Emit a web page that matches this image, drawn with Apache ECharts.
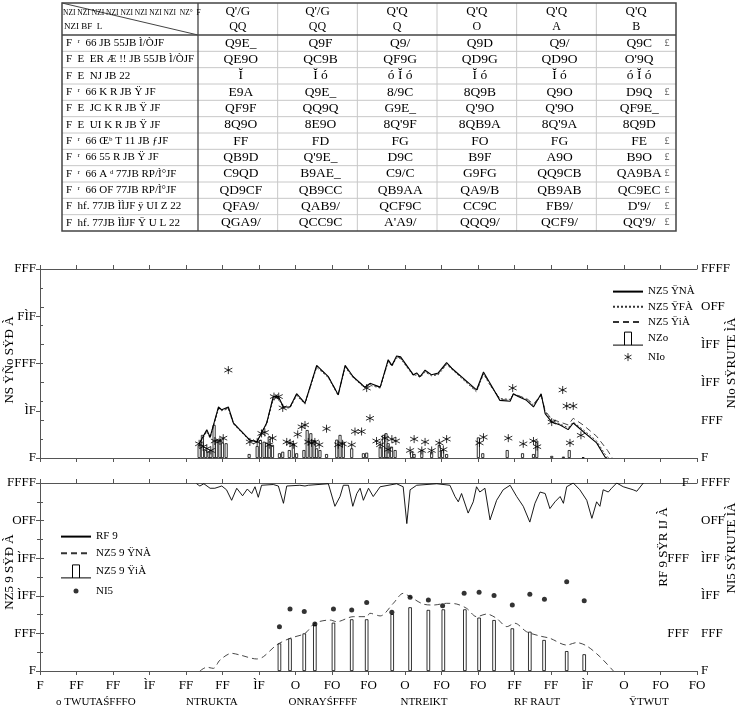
<!DOCTYPE html>
<html><head><meta charset="utf-8">
<script src="https://cdn.jsdelivr.net/npm/echarts@6/dist/echarts.min.js"></script>
<style>html,body{margin:0;padding:0;background:#fff}#c{width:739px;height:723px}</style>
</head><body><div id="c"></div>
<script>
// ---------- table ----------
const tableCorner = ['NZI NZI NZI NZI NZI NZI NZI NZI  NZ°  F', 'NZI BF  L'];
const tableColHeads = [["Q'/G","QQ"],["Q'/G","QQ"],["Q'Q","Q"],["Q'Q","O"],["Q'Q","A"],["Q'Q","B"]];
const tableRowNames = [
  "F  ʳ  66 JB 55JB Ì/ÒJF",
  "F  E  ER Æ !! JB 55JB Ì/ÒJF",
  "F  E  NJ JB 22",
  "F  ʳ  66 K R JB Ÿ JF",
  "F  E  JC K R JB Ÿ JF",
  "F  E  UI K R JB Ÿ JF",
  "F  ʳ  66 Œᵇ T 11 JB ƒJF",
  "F  ʳ  66 55 R JB Ÿ JF",
  "F  ʳ  66 A ᵈ 77JB RP/Ì°JF",
  "F  ʳ  66 OF 77JB RP/Ì°JF",
  "F  hf. 77JB ÌÌJF ÿ UI Z 22",
  "F  hf. 77JB ÌÌJF Ÿ U L 22"
];
const tableValues = [
  ["Q9E_","Q9F","Q9/","Q9D","Q9/","Q9C"],
  ["QE9O","QC9B","QF9G","QD9G","QD9O","O'9Q"],
  ["Ĭ","Ĭ ó","ó Ĭ ó","Ĭ ó","Ĭ ó","ó Ĭ ó"],
  ["E9A","Q9E_","8/9C","8Q9B","Q9O","D9Q"],
  ["QF9F","QQ9Q","G9E_","Q'9O","Q'9O","QF9E_"],
  ["8Q9O","8E9O","8Q'9F","8QB9A","8Q'9A","8Q9D"],
  ["FF","FD","FG","FO","FG","FE"],
  ["QB9D","Q'9E_","D9C","B9F","A9O","B9O"],
  ["C9QD","B9AE_","C9/C","G9FG","QQ9CB","QA9BA"],
  ["QD9CF","QB9CC","QB9AA","QA9/B","QB9AB","QC9EC"],
  ["QFA9/","QAB9/","QCF9C","CC9C","FB9/","D'9/"],
  ["QGA9/","QCC9C","A'A9/","QQQ9/","QCF9/","QQ'9/"]
];
const tableMarks = [true,false,false,true,false,false,true,true,true,true,true,true];

// ---------- axes text ----------
const xTickLabels = ['F','FF','FF','ÌF','FF','FF','ÌF','O','FO','FO','O','FO','FO','FF','FF','ÌF','O','FO','FO'];
const monthCenters = [15.3, 47.1, 77.5, 105.2, 136.2, 166.8];
const monthLabels = ['o TWUTAŚFFFO','NTRUKTA','ONRAYŚFFFF','NTREIKT','RF RAUT','ŸTWUT'];
const yUpLeftLabels = {0:'F',50:'ÌF',100:'FFF',150:'FÌF',200:'FFF'};
const y1000Labels = {0:'F',200:'FFF',400:'ÌFF',600:'ÌFF',800:'OFF',1000:'FFFF'};
const yInnerLabels = {0:'F',100:'FFF',200:'FFF'};
const titles = {
  upLeft:'NS ŸÑo SŸÐ À', upRight:'NIo SŸRUTE ÌÀ',
  lowLeft:'NZ5 9 SŸÐ À', lowInner:'RF 9 SŸR IJ À', lowRight:'NI5 SŸRUTE ÌÀ'
};
const upNames = ['NZ5 ŸNÀ','NZ5 ŸFÀ','NZ5 ŸiÀ','NZo','NIo'];
const lowNames = ['RF 9','NZ5 9 ŸNÀ','NZ5 9 ŸiÀ','NI5'];

// ---------- upper panel data [day, value] ----------
const simA = [[43.6,15],[45.7,30],[46.6,22],[48.9,54],[49.8,51],[51.6,54],[53,37],[57.5,19],[59.4,17],[62.1,37],[63.9,65],[65.3,65],[66.7,54],[68.5,54],[70.3,68],[72.6,58],[75.8,98],[79,86],[81.7,67],[83.6,98],[85.8,86],[89,75],[90.4,79],[93.2,75],[95.4,104],[96.4,98],[97.7,108],[98.8,107],[102.3,88],[103.2,90],[104.1,86],[105.5,93],[107.3,88],[109.1,90],[111.4,101],[112.8,95],[119.6,72],[121.5,91],[123.3,79],[126,61],[128.8,60],[129.7,68],[131,65],[133.3,61],[135.2,54],[137.3,68],[138.4,47],[140.2,38],[142.5,35],[144.7,30],[146.1,37],[148.8,28],[152.5,16],[154.8,1],[155.3,0]];
const simB = [[43.6,14],[45.7,28],[46.6,21],[48.9,52],[49.8,50],[51.6,52],[53,36],[57.5,18],[59.4,17],[62.1,36],[63.9,62],[65.3,63],[66.7,53],[68.5,53],[70.3,66],[72.6,57],[75.8,96],[79,85],[81.7,66],[83.6,96],[85.8,85],[89,74],[90.4,77],[93.2,74],[95.4,102],[96.4,97],[97.7,106],[98.8,105],[102.3,87],[103.2,88],[104.1,85],[105.5,91],[107.3,87],[109.1,88],[111.4,99],[112.8,94],[119.6,70],[121.5,89],[123.3,77],[126,63],[128.8,62],[129.7,67],[131,66],[133.3,62],[135.2,56],[137.3,66],[138.4,49],[140.2,40],[142.5,36],[144.7,32],[146.1,38],[148.8,30],[152.5,18],[154.8,4],[155.8,0]];
const simC = [[43.6,15],[45.7,29],[46.6,22],[48.9,53],[49.8,51],[51.6,53],[53,37],[57.5,19],[59.4,17],[62.1,37],[63.9,64],[65.3,64],[66.7,54],[68.5,54],[70.3,67],[72.6,58],[75.8,97],[79,86],[81.7,67],[83.6,97],[85.8,86],[89,75],[90.4,78],[93.2,75],[95.4,103],[96.4,98],[97.7,107],[98.8,106],[102.3,88],[103.2,89],[104.1,86],[105.5,92],[107.3,88],[109.1,89],[111.4,100],[112.8,95],[119.6,71],[121.5,90],[123.3,78],[126,62],[128.8,61],[129.7,68],[131,66],[133.3,63],[135.2,57],[137.3,67],[138.4,50],[140.2,41],[142.5,38],[144.7,35],[146.1,42],[148.8,35],[152.5,23],[155.5,8],[156.8,0]];
const obsBars = [[43.6,69],[44.5,122],[45.4,42],[46.3,33],[46.8,42],[47.7,175],[48.4,95],[49.3,97],[50.0,81],[51,78],[57.3,21],[59.5,63],[60.4,95],[61.4,86],[62.1,81],[62.8,113],[63.7,69],[65.6,25],[66.5,33],[68.3,42],[69.4,78],[70.3,25],[72.3,42],[73.2,148],[74.2,131],[75.1,95],[75.8,51],[76.7,42],[78.5,21],[81.3,97],[82.2,122],[83.1,86],[85.4,51],[88.6,25],[89.5,28],[93.2,60],[94.1,122],[94.8,131],[95.4,78],[96.3,60],[97.3,42],[101.8,33],[102.5,21],[104.6,42],[107.3,33],[109.4,69],[110.3,42],[111.4,21],[120.1,109],[121.3,25],[128,42],[132.2,25],[135.2,21],[136.1,92],[140.2,11],[143.4,7],[145,42],[148.8,4]];
const obsStars = [[43.6,15],[44.7,12],[45.7,10],[46.8,8],[47.9,18],[49.3,18],[50.2,21],[51.6,93],[57.5,17],[59.5,17],[60.7,26],[61.6,27],[62.8,14],[63.7,21],[64.1,65],[65.4,65],[66.5,53],[67.6,17],[68.5,16],[69.4,14],[70.6,25],[71.7,33],[72.6,35],[73.5,17],[74.4,16],[75.3,17],[76.5,14],[78.5,31],[81.7,14],[82.9,15],[85.4,14],[86.3,28],[88.1,28],[89.5,74],[90.4,42],[92.2,18],[93.2,14],[94.5,21],[95.4,9],[96.4,20],[97.5,18],[101.4,8],[102.5,20],[104.6,8],[105.5,17],[107.3,8],[109.4,16],[110.5,9],[111.4,20],[120.4,16],[121.5,22],[128.3,21],[129.5,74],[132.4,15],[135.2,18],[136.2,12],[140.2,38],[143.2,72],[144.3,55],[146.1,55],[145.2,16],[148.2,24]];

// ---------- lower panel data [day, value] ----------
const precipLine = [[42.9,1],[43.8,4],[44.9,1],[46.6,7],[47.9,7],[49.8,4],[51.1,9],[52.5,23],[53.9,7],[55.5,17],[56.8,8],[58,14],[58.9,5],[59.8,19],[60.7,3],[63.9,2],[65.3,4],[66.7,27],[67.6,4],[71.2,3],[72.6,4],[73.5,3],[79,1],[80.8,31],[82.2,18],[83.1,3],[84.5,3],[85.7,31],[86.8,14],[87.7,7],[88.6,23],[90,7],[91.3,18],[93.2,5],[97.7,1],[99.5,5],[100.5,54],[101.4,9],[103.2,3],[108.7,1],[112.3,3],[113.7,18],[114.6,25],[115.5,14],[117.3,40],[118.7,25],[119.6,5],[120.5,12],[121.9,7],[123.3,49],[125.1,23],[126.9,9],[128.8,3],[130.6,18],[132.4,31],[134.2,52],[135.6,27],[137,12],[138.4,14],[139.7,34],[141.1,25],[142.5,18],[143.4,27],[144.3,5],[146.1,0],[147.9,9],[149.8,23],[151.2,47],[152.5,25],[153.4,31],[154.3,9],[155.7,12],[156.6,7],[158,0],[159.8,5],[162.5,9],[163.5,11],[165.3,0]];
const sweSim = [[43.8,0],[45.7,20],[47.5,14],[49.3,58],[52.5,94],[54.8,85],[59.4,64],[61.2,76],[64.8,138],[68.5,174],[72.6,200],[75.3,254],[79.5,271],[81.3,262],[85.8,289],[89.5,289],[90.4,307],[93.2,293],[96.8,360],[99.5,413],[101.4,395],[105,356],[107.8,351],[111.4,360],[114.2,356],[116.9,333],[119.6,289],[122.4,303],[125.1,280],[127.9,236],[130.1,254],[133.3,209],[137,186],[139.7,174],[144.3,138],[147,151],[149.8,133],[153.4,76],[157.1,0]];
const sweBars = [[65.6,147],[68.5,174],[72.4,200],[75.3,245],[80.4,257],[85.4,275],[89.5,275],[96.5,303],[101.4,339],[106.4,325],[110.5,328],[116.4,328],[120.3,284],[124.4,271],[129.4,227],[134.2,209],[138.1,165],[144.3,106],[149.1,89]];
const sweObs = [[65.6,236],[68.5,330],[72.4,316],[75.3,250],[80.4,330],[85.4,325],[89.5,365],[96.4,312],[101.4,392],[106.4,378],[110.3,347],[116.2,413],[120.3,419],[124.4,401],[129.4,351],[134.2,408],[138.2,381],[144.3,475],[149.1,374]];

// ---------- build ----------
const FONT = 'Liberation Serif';
const chart = echarts.init(document.getElementById('c'), null, {renderer:'canvas'});
const axisCol = '#555';
const starPath = 'path://M0,0 L0,0 M30,14 L30,14 M15,3 L15,11 M11.5,5 L18.5,9 M11.5,9 L18.5,5';
const starSym = 'path://M5,0 L5,10 M0.7,2.5 L9.3,7.5 M0.7,7.5 L9.3,2.5';
const barIcon = 'path://M0,13 L30,13 M11.5,13 L11.5,0 L18.5,0 L18.5,13';
const dotIcon = 'path://M0,0 L0,0 M30,14 L30,14 M12.5,7 A2.5,2.5 0 1,0 17.5,7 A2.5,2.5 0 1,0 12.5,7 Z';

function xAx(grid, pos, labels){
  return {type:'value', gridIndex:grid, position:pos, min:0, max:180, interval:10,
    axisLine:{show:true, onZero:false, lineStyle:{color:axisCol, width:1}},
    axisTick:{show:true, inside:false, length:4, lineStyle:{color:axisCol}},
    axisLabel:{show:!!labels, margin:8, fontFamily:FONT, fontSize:13, color:'#000',
      formatter:v=>xTickLabels[Math.round(v/10)] || ''},
    splitLine:{show:false}};
}
function yAx(grid, pos, max, interval, map, extra){
  return Object.assign({type:'value', gridIndex:grid, position:pos, min:0, max:max, interval:interval,
    axisLine:{show:true, lineStyle:{color:axisCol, width:1}},
    axisTick:{show:true, length:4, lineStyle:{color:axisCol}},
    axisLabel:{fontFamily:FONT, fontSize:13, color:'#000', margin:4, formatter:v=>map[v]!==undefined?map[v]:''},
    splitLine:{show:false}}, extra||{});
}

// table graphics
const g = [];
const tx0=62, ty0=3, tx1=676, ty1=231, thdr=35, tc0=198, tcw=(tx1-tc0)/6, trh=(ty1-thdr)/12;
for(let i=1;i<12;i++) g.push({type:'line', shape:{x1:tx0,y1:thdr+trh*i,x2:tx1,y2:thdr+trh*i}, style:{stroke:'#c8c8c8', lineWidth:1}});
for(let j=1;j<6;j++) g.push({type:'line', shape:{x1:tc0+tcw*j,y1:ty0,x2:tc0+tcw*j,y2:ty1}, style:{stroke:'#c8c8c8', lineWidth:1}});
g.push({type:'line', shape:{x1:tc0,y1:ty0,x2:tc0,y2:ty1}, style:{stroke:'#444', lineWidth:1.3}});
g.push({type:'line', shape:{x1:tx0,y1:thdr,x2:tx1,y2:thdr}, style:{stroke:'#444', lineWidth:1.3}});
g.push({type:'line', shape:{x1:tx0,y1:ty0,x2:tc0,y2:thdr}, style:{stroke:'#444', lineWidth:1}});
g.push({type:'rect', shape:{x:tx0,y:ty0,width:tx1-tx0,height:ty1-ty0}, style:{fill:'none', stroke:'#444', lineWidth:1.5}});
function txt(x,y,s,size,align,extra,fill){
  return Object.assign({type:'text', x:x, y:y, style:{text:s, fill:fill||'#000', font:(size||12)+'px "'+FONT+'"',
    textAlign:align||'center', textVerticalAlign:'middle', align:align||'center', verticalAlign:'middle'}}, extra||{});
}
g.push(txt(63, 13, tableCorner[0], 7.5, 'left'));
g.push(txt(64, 27, tableCorner[1], 9, 'left'));
tableColHeads.forEach((h,j)=>{
  g.push(txt(tc0+tcw*(j+0.5), 12, h[0], 13));
  g.push(txt(tc0+tcw*(j+0.5), 27, h[1], 12));
});
tableRowNames.forEach((s,i)=>{
  const y = thdr+trh*(i+0.5);
  g.push(txt(66, y, s, 11, 'left'));
  tableValues[i].forEach((v,j)=>g.push(txt(tc0+tcw*(j+0.5)+3, y, v, 13.5)));
  if(tableMarks[i]) g.push(txt(667, y, '£', 10, 'center', null, '#555'));
});
// axis titles
g.push(txt(10, 360, titles.upLeft, 13, 'center', {rotation:Math.PI/2}));
g.push(txt(732, 363, titles.upRight, 13, 'center', {rotation:Math.PI/2}));
g.push(txt(10, 572, titles.lowLeft, 13, 'center', {rotation:Math.PI/2}));
g.push(txt(664, 547, titles.lowInner, 13, 'center', {rotation:Math.PI/2}));
g.push(txt(732, 548, titles.lowRight, 13, 'center', {rotation:Math.PI/2}));

const monthAxis = {type:'value', gridIndex:1, position:'bottom', offset:18, min:0, max:180,
  axisLine:{show:false}, axisTick:{show:false}, splitLine:{show:false},
  axisLabel:{show:true, customValues:monthCenters, fontFamily:FONT, fontSize:11, color:'#000', margin:8,
    formatter:v=>{const k=monthCenters.indexOf(v); return k>=0?monthLabels[k]:'';}}};

const hideSym = {opacity:0};
const option = {
  animation:false,
  backgroundColor:'#fff',
  color:['#000'],
  grid:[{left:40, right:42, top:269, height:189},{left:40, right:42, top:483, height:188}],
  xAxis:[xAx(0,'bottom',false), xAx(0,'top',false), xAx(1,'bottom',true), xAx(1,'top',false), monthAxis],
  yAxis:[
    yAx(0,'left',200,50,yUpLeftLabels),
    yAx(0,'right',1000,200,y1000Labels,{minorTick:{show:true, splitNumber:2, length:3, lineStyle:{color:axisCol}}}),
    yAx(1,'left',1000,200,y1000Labels,{minorTick:{show:true, splitNumber:2, length:3, lineStyle:{color:axisCol}}}),
    yAx(1,'right',250,100,yInnerLabels,{inverse:true, axisLine:{show:false}, axisTick:{show:true, inside:true, length:4, lineStyle:{color:axisCol}}, axisLabel:{inside:true, margin:8, fontFamily:FONT, fontSize:13, color:'#000', formatter:v=>yInnerLabels[v]!==undefined?yInnerLabels[v]:''}}),
    yAx(1,'right',1000,200,y1000Labels,{minorTick:{show:true, splitNumber:2, length:3, lineStyle:{color:axisCol}}})
  ],
  legend:[
    {left:607, top:281, orient:'vertical', itemWidth:30, itemHeight:14, itemGap:4, itemTextGap:6, selectedMode:false,
     textStyle:{fontFamily:FONT, fontSize:11, color:'#000'},
     data:[{name:upNames[0], itemStyle:hideSym},{name:upNames[1], itemStyle:hideSym},{name:upNames[2], itemStyle:hideSym},
       {name:upNames[3], icon:barIcon, itemStyle:{color:'#fff', borderColor:'#000', borderWidth:1}},
       {name:upNames[4], icon:starPath, itemStyle:{color:'transparent', borderColor:'#000', borderWidth:1}}]},
    {left:55, top:526, orient:'vertical', itemWidth:30, itemHeight:14, itemGap:5.5, itemTextGap:6, selectedMode:false,
     textStyle:{fontFamily:FONT, fontSize:11, color:'#000'},
     data:[{name:lowNames[0], itemStyle:hideSym},{name:lowNames[1], itemStyle:hideSym},
       {name:lowNames[2], icon:barIcon, itemStyle:{color:'#fff', borderColor:'#000', borderWidth:1}},
       {name:lowNames[3], icon:dotIcon, itemStyle:{color:'#000', borderWidth:0}}]}
  ],
  series:[
    {name:upNames[0], type:'line', xAxisIndex:0, yAxisIndex:0, data:simA, symbol:'none', itemStyle:{color:'#000'}, lineStyle:{color:'#000', width:1.1}, z:5},
    {name:upNames[1], type:'line', xAxisIndex:0, yAxisIndex:0, data:simB, symbol:'none', itemStyle:{color:'#000'}, lineStyle:{color:'#333', width:0.9, type:[2,2]}, z:4},
    {name:upNames[2], type:'line', xAxisIndex:0, yAxisIndex:0, data:simC, symbol:'none', itemStyle:{color:'#000'}, lineStyle:{color:'#333', width:0.9, type:[6,4]}, z:4},
    {name:upNames[3], type:'bar', xAxisIndex:0, yAxisIndex:1, data:obsBars, barWidth:3, itemStyle:{color:'#fff', borderColor:'#000', borderWidth:0.8}, z:3},
    {name:upNames[4], type:'scatter', xAxisIndex:0, yAxisIndex:0, data:obsStars, symbol:starSym, symbolSize:8, itemStyle:{color:'transparent', borderColor:'#000', borderWidth:1}, z:6},
    {name:lowNames[0], type:'line', xAxisIndex:2, yAxisIndex:3, data:precipLine, symbol:'none', itemStyle:{color:'#000'}, lineStyle:{color:'#000', width:0.9}, z:5},
    {name:lowNames[1], type:'line', xAxisIndex:2, yAxisIndex:2, data:sweSim, symbol:'none', smooth:0.3, itemStyle:{color:'#000'}, lineStyle:{color:'#333', width:0.9, type:[6,4]}, z:4},
    {name:lowNames[2], type:'bar', xAxisIndex:2, yAxisIndex:2, data:sweBars, barWidth:3.5, itemStyle:{color:'#fff', borderColor:'#000', borderWidth:0.8}, z:3},
    {name:lowNames[3], type:'scatter', xAxisIndex:2, yAxisIndex:2, data:sweObs, symbol:'circle', symbolSize:5, itemStyle:{color:'#000'}, z:6}
  ],
  graphic:g
};
chart.setOption(option);
</script></body></html>
